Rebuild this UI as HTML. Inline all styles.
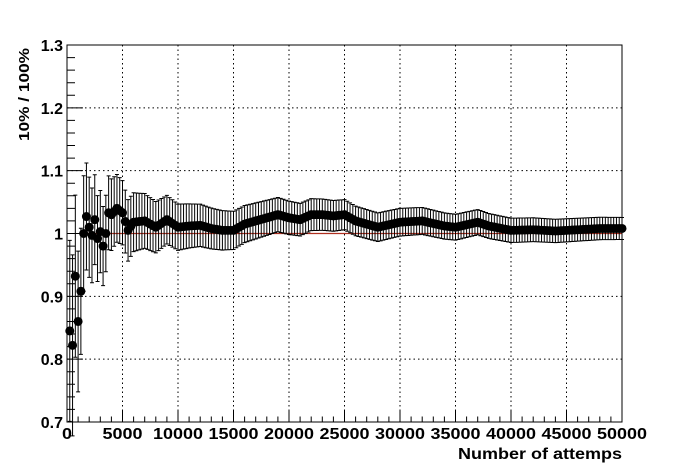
<!DOCTYPE html><html><head><style>body{margin:0;background:#fff}svg{display:block}text{font-family:"Liberation Sans",sans-serif;font-weight:bold}</style></head><body>
<svg id="s" width="692" height="468" xmlns="http://www.w3.org/2000/svg"></svg>
<script>
var s=document.getElementById('s'),h='';
var L=67,R=622,T=45,B=422;
function X(x){return L+(R-L)*x/50000}function Y(v){return B-(B-T)*(v-0.7)/0.6}
h+='<rect x="0" y="0" width="692" height="468" fill="#fff"/>';
for(var i=1;i<10;i++){var x=X(i*5000);h+='<line x1="'+x+'" y1="'+T+'" x2="'+x+'" y2="'+B+'" stroke="#000" stroke-width="1" stroke-dasharray="1.5,3"/>';}
for(var i=1;i<6;i++){var y=Y(0.7+i*0.1);h+='<line x1="'+L+'" y1="'+y+'" x2="'+R+'" y2="'+y+'" stroke="#000" stroke-width="1" stroke-dasharray="1.5,3"/>';}
h+='<line x1="'+X(1250)+'" y1="'+Y(1)+'" x2="'+R+'" y2="'+Y(1)+'" stroke="#b03020" stroke-width="1.2"/>';
var k=[[250,.845],[500,.822],[750,.932],[1000,.86],[1250,.908],[1500,1.0],[1750,1.027],[2000,1.01],[2250,.997],[2500,1.022],[2750,.992],[3000,1.003],[3250,.98],[3500,1.0],[3750,1.033],[4000,1.03],[4500,1.04],[5000,1.033],[5500,1.005],[6000,1.018],[7000,1.02],[8000,1.01],[9000,1.022],[10000,1.01],[11000,1.012],[12000,1.013],[13000,1.008],[14000,1.005],[15000,1.005],[16000,1.015],[17000,1.02],[18000,1.025],[19000,1.03],[20000,1.025],[21000,1.022],[22000,1.03],[23000,1.03],[24000,1.028],[25000,1.03],[26000,1.02],[27000,1.015],[28000,1.01],[30000,1.018],[32000,1.02],[34000,1.012],[35000,1.01],[36000,1.014],[37000,1.018],[38000,1.012],[40000,1.005],[42000,1.006],[44000,1.004],[46000,1.006],[48000,1.008],[50000,1.008]];
function val(x){for(var i=0;i<k.length-1;i++){if(x<=k[i+1][0]){if(x<=k[i][0])return k[i][1];var t=(x-k[i][0])/(k[i+1][0]-k[i][0]);return k[i][1]+t*(k[i+1][1]-k[i][1]);}}return k[k.length-1][1];}
var pts='',bars='';
for(var x=250;x<=50000;x+=250){var v=val(x),e=0.11*Math.sqrt(1000/Math.max(x,600))+0.002;var px=X(x),y1=Y(v+e),y2=Y(v-e);
bars+='M'+px+' '+y1+'V'+y2+'M'+(px-2)+' '+y1+'h4M'+(px-2)+' '+y2+'h4';
pts+='<circle cx="'+px+'" cy="'+Y(v)+'" r="4.5" fill="#000"/>';}
h+='<path d="'+bars+'" stroke="#000" stroke-width="1" fill="none"/>'+pts;
h+='<rect x="'+L+'" y="'+T+'" width="'+(R-L)+'" height="'+(B-T)+'" fill="none" stroke="#000" stroke-width="1"/>';
var t='';
for(var i=0;i<=50;i++){var x=X(i*1000),l=(i%5==0)?11:5.5;t+='M'+x+' '+B+'v'+(-l);}
for(var i=0;i<=30;i++){var y=Y(0.7+i*0.02),l=(i%5==0)?16:8;t+='M'+L+' '+y+'h'+l;}
h+='<path d="'+t+'" stroke="#000" stroke-width="1" fill="none"/>';
for(var i=0;i<=10;i++){var n=String(i*5000);h+='<text x="'+X(i*5000)+'" y="439" font-size="16" text-anchor="middle" textLength="'+(n.length*10)+'" lengthAdjust="spacingAndGlyphs">'+n+'</text>';}
var yl=['0.7','0.8','0.9','1','1.1','1.2','1.3'];
for(var i=0;i<7;i++){h+='<text x="63" y="'+(Y(0.7+i*0.1)+6)+'" font-size="16" text-anchor="end">'+yl[i]+'</text>';}
h+='<text x="622" y="459" font-size="16" text-anchor="end" textLength="164" lengthAdjust="spacingAndGlyphs">Number of attemps</text>';
h+='<text transform="translate(29,48) rotate(-90)" font-size="15" text-anchor="end" textLength="93" lengthAdjust="spacingAndGlyphs">10% / 100%</text>';
s.innerHTML=h;
</script></body></html>
